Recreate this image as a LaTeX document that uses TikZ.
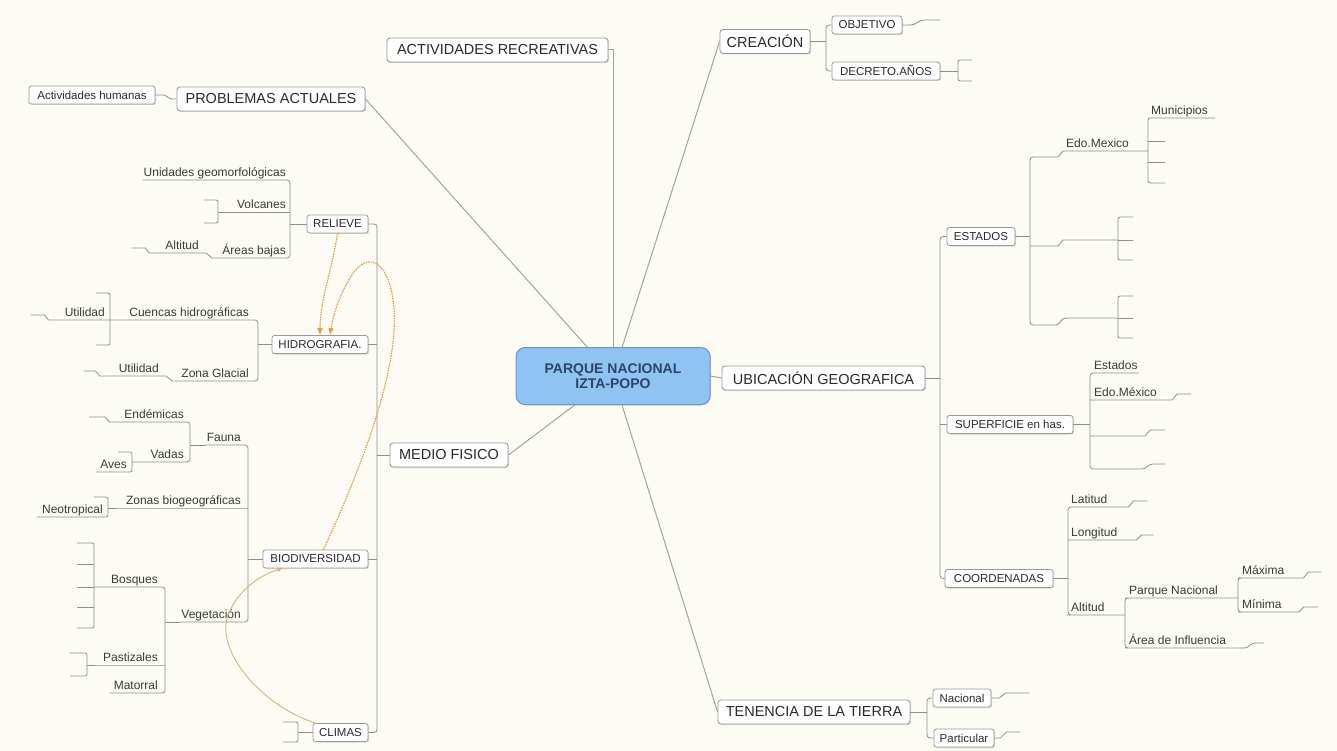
\documentclass[tikz,border=0pt]{standalone}
\usepackage{fontspec}
\setmainfont{Liberation Sans}
\usetikzlibrary{arrows.meta,shadows}
\definecolor{bg}{HTML}{FCFCF5}
\definecolor{ln}{HTML}{8E8E8E}
\definecolor{tk}{HTML}{A2A2A2}
\definecolor{bx}{HTML}{9A9A9A}
\definecolor{tx}{HTML}{2A2A2A}
\definecolor{lt}{HTML}{3A3A3A}
\definecolor{cfill}{HTML}{8FC3F2}
\definecolor{cdraw}{HTML}{6A95C4}
\definecolor{ctext}{HTML}{2C4466}
\definecolor{orn}{HTML}{E99A3C}
\definecolor{orl}{HTML}{DDB27A}
\tikzset{
  mainbox/.style={draw=bx, fill=white, rounded corners=3pt, line width=0.9pt,
    font=\fontsize{14.5}{17}\selectfont, text=tx, minimum height=24pt,
    inner xsep=3pt, inner ysep=0pt,
    drop shadow={shadow xshift=1pt, shadow yshift=-1pt, fill=black, opacity=0.15}},
  subbox/.style={draw=bx, fill=white, rounded corners=2.5pt, line width=0.8pt,
    font=\fontsize{11.5}{13}\selectfont, text=tx, minimum height=18pt,
    inner xsep=3pt, inner ysep=0pt,
    drop shadow={shadow xshift=1pt, shadow yshift=-1pt, fill=black, opacity=0.15}},
  leaf/.style={font=\fontsize{12}{14}\selectfont, text=lt, inner xsep=1pt,
    inner ysep=1pt, text height=8.6pt, text depth=2.6pt},
  leafL/.style={leaf, anchor=south east},
  leafR/.style={leaf, anchor=south west},
  conn/.style={draw=ln, line width=0.8pt},
  trunk/.style={draw=tk, line width=1pt},
  orangeA/.style={draw=orn, line width=1.2pt, dash pattern=on 1.5pt off 1pt},
  orangeB/.style={draw=orl, line width=0.9pt},
}
\begin{document}
\begin{tikzpicture}[x=1pt,y=-1pt]
\fill[bg] (0,0) rectangle (1337,751);
\useasboundingbox (0,0) rectangle (1337,751);

% ---------- centre ----------
\node[draw=cdraw, fill=cfill, rounded corners=9pt, line width=1pt,
  minimum width=194pt, minimum height=57pt, align=center,
  font=\bfseries\fontsize{14}{15}\selectfont, text=ctext,
  drop shadow={shadow xshift=1pt, shadow yshift=-1pt, fill=black, opacity=0.15}]
  (ctr) at (613,376) {PARQUE NACIONAL\\IZTA-POPO};

% ---------- main topics ----------
\node[mainbox, minimum width=221pt] (act) at (497.5,50) {ACTIVIDADES RECREATIVAS};
\node[mainbox, minimum width=188pt] (pa) at (271,99) {PROBLEMAS ACTUALES};
\node[mainbox, minimum width=90pt] (cre) at (765,41.5) {CREACIÓN};
\node[mainbox, minimum width=203pt] (ubi) at (823.5,378) {UBICACIÓN GEOGRAFICA};
\node[mainbox, minimum width=118pt] (med) at (449,455) {MEDIO FISICO};
\node[mainbox, minimum width=192pt] (ten) at (814,712) {TENENCIA DE LA TIERRA};

\draw[trunk] (act.east) -| (ctr.north);
\draw[trunk] (pa.east) -- (ctr);
\draw[trunk] (cre.west) -- (ctr);
\draw[trunk] (ctr.east) -- (ubi.west);
\draw[trunk] (med.east) -- (ctr);
\draw[trunk] (ctr) -- (ten.west);

% ---------- PROBLEMAS ACTUALES ----------
\node[subbox, minimum width=126pt] (ah) at (92,95) {Actividades humanas};
\draw[conn, rounded corners=2pt] (pa.west) -- ++(-7,0) -- ++(-4,-4) -- (ah.east);

% ---------- CREACION ----------
\node[subbox, minimum width=70pt] (obj) at (867,25) {OBJETIVO};
\node[subbox, minimum width=108pt] (dec) at (886,71) {DECRETO.AÑOS};
\coordinate (cbx) at (826,0);
\draw[conn, rounded corners=3pt] (obj.west) -- (obj.west -| cbx) -- (dec.west -| cbx) -- (dec.west);
\draw[conn] (cre.east) -- (cre.east -| cbx);
\draw[conn] (obj.east) -- ++(8,0) .. controls ++(6,0) and ++(-6,0) .. ++(14,-5) -- ++(16,0);
\draw[conn] (dec.east) -- (958,71);
\draw[conn, rounded corners=2pt] (972,60) -- (958,60) -- (958,81) -- (972,81);

% ---------- MEDIO FISICO ----------
\node[subbox, minimum width=61pt] (rel) at (337.5,224) {RELIEVE};
\node[subbox, minimum width=96pt] (hid) at (320,344.5) {HIDROGRAFIA.};
\node[subbox, minimum width=105pt] (bio) at (315.5,559) {BIODIVERSIDAD};
\node[subbox, minimum width=55pt] (cli) at (340.5,732.5) {CLIMAS};
\coordinate (mbx) at (377,0);
\draw[conn, rounded corners=3pt] (rel.east) -- (rel.east -| mbx) -- (cli.east -| mbx) -- (cli.east);
\draw[conn] (hid.east) -- (hid.east -| mbx);
\draw[conn] (bio.east) -- (bio.east -| mbx);
\draw[conn] (med.west) -- (med.west -| mbx);

% RELIEVE
\coordinate (rbx) at (290,0);
\node[leafL] (uni) at (287,180) {Unidades geomorfológicas};
\node[leafL] (vol) at (287,212) {Volcanes};
\node[leafL] (are) at (287,258) {Áreas bajas};
\node[leafL] (alt) at (200,253) {Altitud};
\draw[conn, rounded corners=3pt] (uni.south west) -- (uni.south west -| rbx) -- (are.south west -| rbx) -- (are.south west);
\draw[conn] (rel.west) -- (rel.west -| rbx);
\draw[conn] (vol.south -| rbx) -- (218,212);
\draw[conn, rounded corners=2pt] (204,200) -- (218,200) -- (218,223) -- (204,223);
\draw[conn] (are.south west) -- (212,258) -- (206,253) -- (alt.south east) -- (alt.south west) -- ++(-15,0) -- ++(-4,-5) -- ++(-14,0);

% HIDROGRAFIA
\coordinate (hbx) at (258,0);
\node[leafL] (cue) at (250,320) {Cuencas hidrográficas};
\node[leafL] (zon) at (250,381) {Zona Glacial};
\node[leafL] (ut1) at (106,320) {Utilidad};
\node[leafL] (ut2) at (160,376) {Utilidad};
\draw[conn, rounded corners=3pt] (cue.south west) -- (cue.south west -| hbx) -- (zon.south west -| hbx) -- (zon.south west);
\draw[conn] (hid.west) -- (hid.west -| hbx);
\draw[conn] (cue.south west) -- (ut1.south east) -- (ut1.south west) -- ++(-15,0) -- ++(-4,-5) -- ++(-14,0);
\draw[conn, rounded corners=2pt] (96,293) -- (110,293) -- (110,345) -- (96,345);
\draw[conn] (zon.south west) -- (172,381) -- (166,376) -- (ut2.south east) -- (ut2.south west) -- ++(-18,0) -- ++(-4,-5) -- ++(-12,0);

% BIODIVERSIDAD
\coordinate (bbx) at (248,0);
\node[leafL] (fau) at (242,445) {Fauna};
\node[leafL] (zbg) at (242,508) {Zonas biogeográficas};
\node[leafL] (veg) at (242,622) {Vegetación};
\draw[conn, rounded corners=3pt] (fau.south west) -- (fau.south west -| bbx) -- (veg.south west -| bbx) -- (veg.south west);
\draw[conn] (bio.west) -- (bio.west -| bbx);
\draw[conn] (zbg.south east -| bbx) -- (zbg.south west) -- (108,508);
% Fauna
\coordinate (fbx) at (190,0);
\node[leafL] (end) at (185,422) {Endémicas};
\node[leafL] (vad) at (185,462) {Vadas};
\node[leafL] (ave) at (128,472) {Aves};
\draw[conn] (fau.south west) -- (fau.south west -| fbx);
\draw[conn, rounded corners=3pt] (end.south west) -- (end.south west -| fbx) -- (vad.south west -| fbx) -- (vad.south west) -- (132,462);
\draw[conn] (end.south west) -- ++(-14,0) -- ++(-4,-5) -- ++(-16,0);
\draw[conn, rounded corners=2pt] (118,452) -- (132,452) -- (132,472) -- (ave.south west) -- ++(-3,0);
% Zonas
\node[leafL] (neo) at (104,517) {Neotropical};
\draw[conn, rounded corners=2pt] (94,497) -- (108,497) -- (108,517) -- (neo.south west) -- ++(-4,0);
% Vegetacion
\coordinate (vbx) at (165,0);
\node[leafL] (bos) at (159,587) {Bosques};
\node[leafL] (pas) at (159,665) {Pastizales};
\node[leafL] (mat) at (159,693) {Matorral};
\draw[conn] (veg.south west) -- (veg.south west -| vbx);
\draw[conn, rounded corners=3pt] (94,587) -- (bos.south west) -- (bos.south west -| vbx) -- (mat.south west -| vbx) -- (mat.south west) -- ++(-3,0);
\draw[conn] (pas.south west -| vbx) -- (pas.south west) -- (87,665);
\draw[conn, rounded corners=2pt] (77,543) -- (94,543) -- (94,628) -- (77,628);
\draw[conn] (77,564) -- (94,564);
\draw[conn] (77,587) -- (94,587);
\draw[conn] (77,607) -- (94,607);
\draw[conn, rounded corners=2pt] (70,653) -- (87,653) -- (87,676) -- (70,676);
% CLIMAS
\draw[conn] (cli.west) -- (298,732.5);
\draw[conn, rounded corners=2pt] (283,722) -- (298,722) -- (298,742) -- (283,742);

% orange relations
\draw[orangeA, -{Latex[length=7pt,width=6pt]}] (rel.south) .. controls (332,270) and (320,300) .. (hid.north);
\draw[orangeA, -{Latex[length=7pt,width=6pt]}] ([xshift=8pt]bio.north) .. controls (365,460) and (402,360) .. (393,300)
   .. controls (388,262) and (368,250) .. (352,275) .. controls (342,290) and (334,310) .. ([xshift=10pt]hid.north);
\draw[orangeB, -{Latex[length=5pt,width=5pt]}] ([xshift=-25pt]cli.north) .. controls (260,705) and (215,650) .. (228,615)
   .. controls (238,590) and (260,575) .. ([xshift=-33pt]bio.south);

% ---------- UBICACION ----------
\node[subbox, minimum width=68pt] (est) at (981,236.5) {ESTADOS};
\node[subbox, minimum width=126pt] (sup) at (1010,424.5) {SUPERFICIE en has.};
\node[subbox, minimum width=108pt] (coo) at (999,578.5) {COORDENADAS};
\coordinate (ubx) at (940,0);
\draw[conn, rounded corners=3pt] (est.west) -- (est.west -| ubx) -- (coo.west -| ubx) -- (coo.west);
\draw[conn] (ubi.east) -- (ubi.east -| ubx);
\draw[conn] (sup.west) -- (sup.west -| ubx);

% ESTADOS
\coordinate (ebx) at (1030,0);
\node[leafR] (edo) at (1065,151) {Edo.Mexico};
\node[leafR] (mun) at (1150,118) {Municipios};
\draw[conn] (est.east) -- (est.east -| ebx);
\draw[conn, rounded corners=3pt] (1058,157) -- (1030,157) -- (1030,325) -- (1058,325) -- (1063,318) -- (1118,318);
\draw[conn] (1058,157) -- (1063,151) -- (edo.south west) -- (edo.south east) -- (1148,151);
\draw[conn] (1030,246) -- (1058,246) -- (1063,240) -- (1118,240);
\draw[conn, rounded corners=2pt] (mun.south east) -- ++(6,0) (mun.south east) -- (1148,118) -- (1148,183) -- (1165,183);
\draw[conn] (1148,141) -- (1165,141);
\draw[conn] (1148,162) -- (1165,162);
\draw[conn, rounded corners=2pt] (1133,217) -- (1118,217) -- (1118,260) -- (1133,260);
\draw[conn] (1118,240) -- (1133,240);
\draw[conn, rounded corners=2pt] (1133,296) -- (1118,296) -- (1118,338) -- (1133,338);
\draw[conn] (1118,318) -- (1133,318);

% SUPERFICIE
\node[leafR] (es2) at (1093,373) {Estados};
\node[leafR] (ed2) at (1093,400) {Edo.México};
\draw[conn] (sup.east) -- (1090,424.5);
\draw[conn, rounded corners=3pt] (es2.south east) -- (1090,373) -- (1090,469) -- (1145,469) -- (1150,464) -- (1165,464);
\draw[conn] (1090,400) -- (ed2.south west) -- (ed2.south east) -- ++(14,0) -- ++(5,-6) -- ++(14,0);
\draw[conn] (1090,436) -- (1145,436) -- (1150,430) -- (1165,430);

% COORDENADAS
\node[leafR] (lat) at (1070,507) {Latitud};
\node[leafR] (lon) at (1070,540) {Longitud};
\node[leafR] (al2) at (1070,615) {Altitud};
\draw[conn] (coo.east) -- (1068,578.5);
\draw[conn, rounded corners=3pt] (lat.south east) -- (1068,507) -- (1068,615) -- (al2.south west) -- (al2.south east) -- (1125,615);
\draw[conn] (lat.south east) -- ++(20,0) -- ++(5,-6) -- ++(14,0);
\draw[conn] (1068,540) -- (lon.south east) -- ++(18,0) -- ++(5,-5) -- ++(12,0);
\node[leafR] (pqn) at (1128,598) {Parque Nacional};
\node[leafR] (ain) at (1128,648) {Área de Influencia};
\draw[conn, rounded corners=3pt] (1238,598) -- (pqn.south east) -- (pqn.south west) -- (1125,598) -- (1125,648) -- (ain.south west) -- (ain.south east) -- ++(20,0) -- ++(5,-5) -- ++(12,0);
\node[leafR] (max) at (1241,578) {Máxima};
\node[leafR] (min) at (1241,612) {Mínima};
\draw[conn, rounded corners=3pt] (max.south east) -- (max.south west) -- (1238,578) -- (1238,612) -- (min.south west) -- (min.south east);
\draw[conn] (max.south east) -- ++(18,0) -- ++(5,-6) -- ++(13,0);
\draw[conn] (min.south east) -- ++(16,0) -- ++(5,-5) -- ++(14,0);

% ---------- TENENCIA ----------
\node[subbox, minimum width=58pt] (nac) at (962,698) {Nacional};
\node[subbox, minimum width=60pt] (par) at (964,738) {Particular};
\coordinate (tbx) at (927,0);
\draw[conn, rounded corners=3pt] (nac.west) -- (nac.west -| tbx) -- (par.west -| tbx) -- (par.west);
\draw[conn] (ten.east) -- (ten.east -| tbx);
\draw[conn] (nac.east) -- ++(8,0) -- ++(6,-5) -- ++(24,0);
\draw[conn] (par.east) -- ++(6,0) -- ++(6,-6) -- ++(14,0);
\end{tikzpicture}
\end{document}
